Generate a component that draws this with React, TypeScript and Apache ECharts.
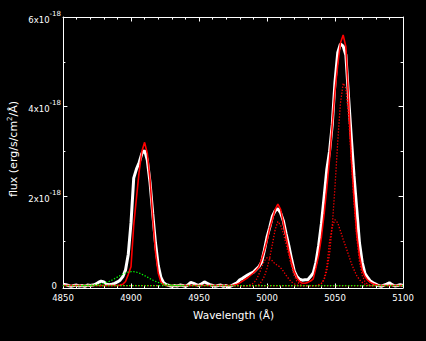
import React, { useEffect, useRef } from "react";
import * as echarts from "echarts";

// Wavelength grid (Angstrom), 2 A steps from 4850 to 5100
const lambdaStart = 4850;
const lambdaStep = 2;

// Observed spectrum (white), units of 1e-18 erg/s/cm2/A
const observed = [
  0.03, 0.02, 0, -0.02, 0, 0.01, -0.01, 0, -0.02, 0.01,
  0, 0.01, 0.03, 0.07, 0.1, 0.08, 0.03, 0.02, 0.03, 0.05,
  0.08, 0.12, 0.2, 0.35, 0.7, 1.4, 2.4, 2.6, 2.75, 2.95,
  3.02, 2.8, 2.3, 1.6, 0.95, 0.45, 0.18, 0.06, 0.02, 0,
  -0.02, 0, -0.01, 0.01, 0, -0.02, 0.02, 0.07, 0.05, 0.02,
  0, 0.04, 0.08, 0.05, 0.02, 0, -0.02, 0, 0.01, -0.02,
  0, -0.03, 0, 0.03, 0.06, 0.13, 0.16, 0.2, 0.24, 0.27,
  0.3, 0.36, 0.42, 0.52, 0.78, 1.08, 1.3, 1.55, 1.67, 1.72,
  1.62, 1.45, 1.16, 0.9, 0.6, 0.33, 0.2, 0.14, 0.12, 0.13,
  0.13, 0.2, 0.28, 0.52, 0.9, 1.38, 1.98, 2.6, 3.0, 3.6,
  4.55, 5.2, 5.4, 5.35, 5.15, 4.2, 3.3, 2.45, 1.7, 0.95,
  0.52, 0.27, 0.18, 0.1, 0.06, 0.03, 0, -0.02, 0.01, 0.03,
  0.06, 0.02, -0.01, 0, 0.02, 0,
];

// Total fit (red solid)
const totalFit = [
  0, 0, 0, 0, 0, 0, 0, 0, 0, 0,
  0, 0, 0, 0, 0, 0, 0, 0, 0, 0,
  0, 0.01, 0.03, 0.09, 0.25, 0.42, 1.35, 1.95, 2.55, 3.0,
  3.2, 2.95, 2.36, 1.5, 0.75, 0.28, 0.08, 0.02, 0, 0,
  0, 0, 0, 0, 0, 0, 0, 0, 0, 0,
  0, 0, 0, 0, 0, 0, 0, 0, 0, 0,
  0, 0, 0, 0.01, 0.03, 0.06, 0.1, 0.14, 0.18, 0.23,
  0.28, 0.34, 0.41, 0.58, 0.78, 1.0, 1.28, 1.48, 1.7, 1.82,
  1.7, 1.4, 1.1, 0.78, 0.52, 0.31, 0.17, 0.09, 0.05, 0.05,
  0.07, 0.1, 0.15, 0.4, 0.68, 1.08, 1.6, 2.2, 2.83, 3.6,
  4.35, 4.93, 5.42, 5.6, 5.33, 4.15, 2.83, 1.95, 1.15, 0.67,
  0.35, 0.2, 0.12, 0.07, 0.04, 0.02, 0, 0, 0, 0,
  0, 0, 0, 0, 0, 0,
];

// Fit components (red dotted), [wavelength, flux]
const compZero4900 = [[4877, 0], [4921, 0]];
const comp5000Broad = [
  [4976, 0], [4986, 0], [4988, 0.02], [4990, 0.05], [4992, 0.12], [4994, 0.25],
  [4996, 0.4], [4998, 0.55], [5000, 0.62], [5002, 0.6], [5004, 0.55], [5006, 0.48],
  [5008, 0.45], [5010, 0.4], [5012, 0.32], [5014, 0.23], [5016, 0.15], [5018, 0.08],
  [5020, 0.04], [5022, 0.01], [5024, 0], [5080, 0],
];
const comp5007Narrow = [
  [4976, 0], [4992, 0], [4994, 0.02], [4996, 0.09], [4998, 0.2], [5000, 0.38],
  [5002, 0.62], [5004, 0.93], [5006, 1.25], [5008, 1.43], [5010, 1.35], [5012, 1.17],
  [5014, 0.93], [5016, 0.68], [5018, 0.43], [5020, 0.22], [5022, 0.09], [5024, 0.03],
  [5026, 0], [5080, 0],
];
const comp5050Broad = [
  [4976, 0], [5038, 0], [5040, 0.04], [5042, 0.15], [5044, 0.42], [5046, 0.98],
  [5048, 1.32], [5050, 1.47], [5052, 1.4], [5054, 1.22], [5056, 1.03], [5058, 0.86],
  [5060, 0.68], [5062, 0.5], [5064, 0.35], [5066, 0.22], [5068, 0.13], [5070, 0.07],
  [5072, 0.03], [5074, 0], [5080, 0],
];
const comp5056Narrow = [
  [4976, 0], [5036, 0], [5038, 0.02], [5040, 0.05], [5042, 0.13], [5044, 0.33],
  [5046, 0.71], [5048, 1.34], [5050, 2.21], [5052, 3.21], [5054, 4.07], [5056, 4.52],
  [5058, 4.41], [5060, 3.76], [5062, 2.81], [5064, 1.84], [5066, 1.06], [5068, 0.53],
  [5070, 0.23], [5072, 0.09], [5074, 0.03], [5076, 0], [5080, 0],
];

// Green dotted components
const greenBroad = [
  [4864, 0], [4866, 0.002], [4868, 0.003], [4870, 0.006], [4872, 0.01], [4874, 0.015],
  [4876, 0.023], [4878, 0.035], [4880, 0.05], [4882, 0.07], [4884, 0.094], [4886, 0.122],
  [4888, 0.154], [4890, 0.188], [4892, 0.222], [4894, 0.253], [4896, 0.28], [4898, 0.299],
  [4900, 0.309], [4902, 0.309], [4904, 0.299], [4906, 0.28], [4908, 0.253], [4910, 0.222],
  [4912, 0.188], [4914, 0.154], [4916, 0.122], [4918, 0.094], [4920, 0.07], [4922, 0.05],
  [4924, 0.035], [4926, 0.023], [4928, 0.015], [4930, 0.01], [4932, 0.006], [4934, 0.003],
  [4936, 0.002], [4938, 0],
];
const greenBaseline = [[4850, 0], [5100, 0]];

// Axis ticks
const xTicks = ["4850", "4900", "4950", "5000", "5050", "5100"];
const yMajor = [0, 2, 4, 6];
const yMinor = [1, 3, 5];

const FONT = "DejaVu Sans";

export default function App() {
  const ref = useRef<HTMLDivElement>(null);
  useEffect(() => {
    document.body.style.margin = "0";
    document.body.style.background = "#000";
    const chart = echarts.init(ref.current!, null, { renderer: "svg" });
    const pairs = (arr: number[]) =>
      arr.map((v, i) => [lambdaStart + lambdaStep * i, v]);
    const xMin = Number(xTicks[0]);
    const xMax = Number(xTicks[xTicks.length - 1]);

    const xAxisBase = (pos: string, labels: boolean) => ({
      type: "value",
      min: xMin,
      max: xMax,
      interval: 50,
      position: pos,
      axisLine: { show: true, onZero: false, lineStyle: { color: "#fff", width: 1 } },
      axisTick: { show: true, inside: true, length: 4.5, lineStyle: { color: "#fff" } },
      minorTick: { show: true, splitNumber: 5, length: 2.6, lineStyle: { color: "#fff" } },
      axisLabel: {
        show: labels,
        color: "#fff",
        fontSize: 8.5,
        fontFamily: FONT,
        margin: 5,
        formatter: (v: number) => String(Math.round(v)),
      },
      splitLine: { show: false },
      minorSplitLine: { show: false },
    });

    const yAxisBase = (pos: string, major: boolean, labels: boolean) => ({
      type: "value",
      min: -0.055,
      max: 6,
      position: pos,
      axisLine: { show: major, onZero: false, lineStyle: { color: "#fff", width: 1 } },
      axisTick: {
        show: true,
        inside: true,
        length: major ? 4.4 : 2.4,
        customValues: major ? yMajor : yMinor,
        lineStyle: { color: "#fff" },
      },
      axisLabel: {
        show: labels,
        customValues: yMajor,
        margin: 2,
        formatter: (v: number) =>
          Math.abs(v) < 1e-9 ? "{z|0}" : `{m|${Math.round(v)}x10}{s|-18}`,
        rich: {
          m: { fontSize: 8.5, fontFamily: FONT, color: "#fff", lineHeight: 14, verticalAlign: "bottom" },
          s: { fontSize: 7, fontFamily: FONT, color: "#fff", lineHeight: 8, verticalAlign: "top" },
          z: { fontSize: 8.5, fontFamily: FONT, color: "#fff", lineHeight: 14, padding: [0, 4, 0, 0] },
        },
      },
      splitLine: { show: false },
    });

    const dotted = (data: number[][], color: string, z: number) => ({
      type: "line",
      data,
      showSymbol: false,
      symbol: "none",
      z,
      lineStyle: { color, width: 1.3, type: [1.3, 1.7] },
      silent: true,
    });

    chart.setOption({
      animation: false,
      backgroundColor: "#000",
      grid: { left: 63, right: 23, top: 17, bottom: 53 },
      xAxis: [xAxisBase("bottom", true), xAxisBase("top", false)],
      yAxis: [
        yAxisBase("left", true, true),
        yAxisBase("left", false, false),
        yAxisBase("right", true, false),
        yAxisBase("right", false, false),
      ],
      series: [
        {
          type: "line",
          data: pairs(observed),
          showSymbol: false,
          symbol: "none",
          z: 1,
          lineStyle: { color: "#fff", width: 3 },
          silent: true,
        },
        {
          type: "line",
          data: pairs(totalFit),
          showSymbol: false,
          symbol: "none",
          z: 2,
          lineStyle: { color: "#ff0000", width: 1.6 },
          silent: true,
        },
        dotted(compZero4900, "#ff0000", 3),
        dotted(comp5000Broad, "#ff0000", 3),
        dotted(comp5007Narrow, "#ff0000", 3),
        dotted(comp5050Broad, "#ff0000", 3),
        dotted(comp5056Narrow, "#ff0000", 3),
        dotted(greenBaseline, "#00ff00", 4),
        dotted(greenBroad, "#00ff00", 4),
      ],
      graphic: [
        {
          type: "text",
          x: 233.5,
          y: 314.5,
          style: {
            text: "Wavelength (Å)",
            fill: "#fff",
            fontSize: 10.5,
            fontFamily: FONT,
            textAlign: "center",
            textVerticalAlign: "middle",
          },
        },
        {
          type: "text",
          x: 13.5,
          y: 149,
          rotation: Math.PI / 2,
          style: {
            text: "flux (erg/s/cm{s|2}/Å)",
            fill: "#fff",
            fontSize: 11,
            fontFamily: FONT,
            lineHeight: 14,
            textAlign: "center",
            textVerticalAlign: "middle",
            rich: {
              s: { fontSize: 7, fontFamily: FONT, fill: "#fff", lineHeight: 8, verticalAlign: "top" },
            },
          },
        },
      ],
    });
    return () => chart.dispose();
  }, []);
  return (
    <div
      ref={ref}
      style={{ position: "fixed", left: 0, top: 0, width: 426, height: 341, background: "#000" }}
    />
  );
}
